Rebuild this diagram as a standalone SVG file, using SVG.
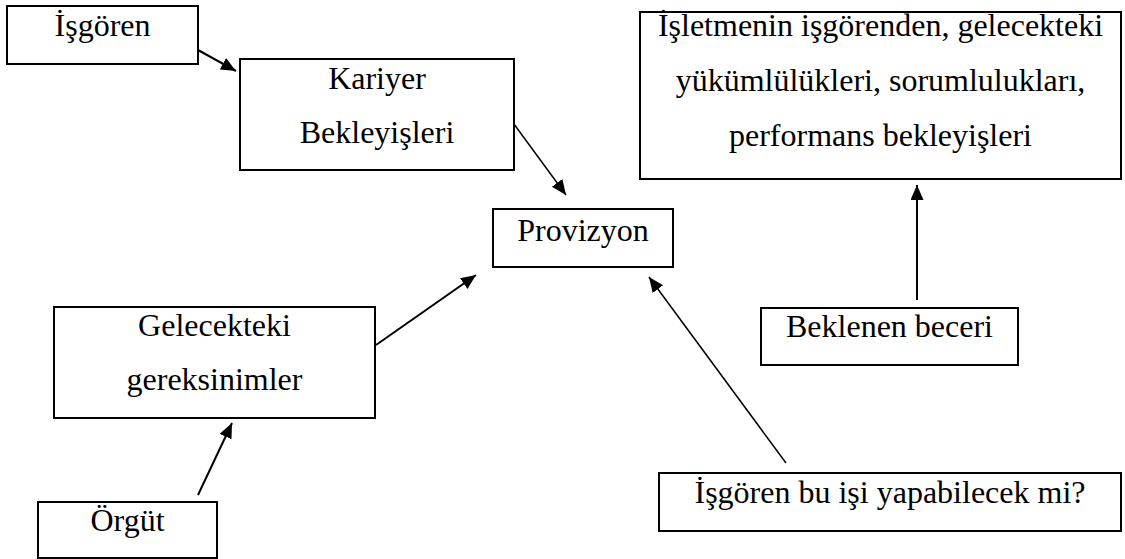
<svg xmlns="http://www.w3.org/2000/svg" width="1125" height="559" viewBox="0 0 1125 559">
<style>
.box{fill:#fff;stroke:#000;stroke-width:2}
text{font-family:'Liberation Serif',serif;font-size:32px;fill:#000;text-anchor:middle}
.c{stroke:#000;stroke-width:2;fill:none;marker-end:url(#ah)}
.thin{stroke-width:1.5}
</style>
<defs>
<marker id="ah" markerUnits="userSpaceOnUse" markerWidth="16" markerHeight="14" refX="15" refY="6.5" orient="auto">
<path d="M0,0 L15,6.5 L0,13 Z" fill="#000"/>
</marker>
</defs>
<g id="connectors">
<line class="c" x1="198" y1="50" x2="236" y2="71"/>
<line class="c thin" x1="511" y1="120" x2="566" y2="195"/>
<line class="c" x1="376" y1="345" x2="476" y2="275"/>
<line class="c" x1="198" y1="495" x2="232" y2="423"/>
<line class="c thin" x1="786" y1="463" x2="649" y2="277"/>
<line class="c" x1="917" y1="300" x2="917" y2="185"/>
</g>
<g id="isgoren">
<rect class="box" x="7" y="6" width="191" height="58"/>
<text font-family="Liberation Serif, serif" x="102.5" y="36">İşgören</text>
</g>
<g id="kariyer">
<rect class="box" x="240" y="59" width="274" height="111"/>
<text font-family="Liberation Serif, serif" x="377" y="89">Kariyer</text>
<text font-family="Liberation Serif, serif" x="377" y="143">Bekleyişleri</text>
</g>
<g id="provizyon">
<rect class="box" x="493" y="209" width="180" height="58"/>
<text font-family="Liberation Serif, serif" x="583" y="241">Provizyon</text>
</g>
<g id="isletme">
<rect class="box" x="640" y="12" width="481" height="167"/>
<text font-family="Liberation Serif, serif" x="880.5" y="36">İşletmenin işgörenden, gelecekteki</text>
<text font-family="Liberation Serif, serif" x="880.5" y="91">yükümlülükleri, sorumlulukları,</text>
<text font-family="Liberation Serif, serif" x="880.5" y="146">performans bekleyişleri</text>
</g>
<g id="beklenen">
<rect class="box" x="761" y="308" width="257" height="57"/>
<text font-family="Liberation Serif, serif" x="889.5" y="337">Beklenen beceri</text>
</g>
<g id="gelecekteki">
<rect class="box" x="54" y="307" width="321" height="111"/>
<text font-family="Liberation Serif, serif" x="214.5" y="336">Gelecekteki</text>
<text font-family="Liberation Serif, serif" x="214.5" y="390">gereksinimler</text>
</g>
<g id="orgut">
<rect class="box" x="38" y="502" width="179" height="56"/>
<text font-family="Liberation Serif, serif" x="127.5" y="531">Örgüt</text>
</g>
<g id="yapabilecek">
<rect class="box" x="659" y="473" width="462" height="58"/>
<text font-family="Liberation Serif, serif" x="890" y="503">İşgören bu işi yapabilecek mi?</text>
</g>
</svg>
